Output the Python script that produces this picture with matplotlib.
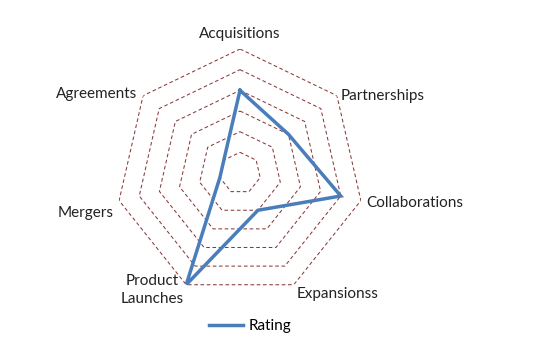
import matplotlib
matplotlib.use('Agg')
import matplotlib.pyplot as plt
import numpy as np

# radar data
categories = ['Acquisitions', 'Partnerships', 'Collaborations', 'Expansionss',
              'Product\nLaunches', 'Mergers', 'Agreements']
rating = [4, 3, 5, 2, 6, 1, 1]
levels = [1, 2, 3, 4, 5, 6]

# label offsets (points) from the outer vertex + alignment
label_style = [((0, 11), 'center', 'center'),
               ((3, 0), 'left', 'center'),
               ((4, -2), 'left', 'center'),
               ((2, -7), 'left', 'center'),
               ((-2, -4), 'right', 'center'),
               ((-4, -9), 'right', 'center'),
               ((-4, 1), 'right', 'center')]

plt.rcParams['font.family'] = ['Lato', 'DejaVu Sans']

n = len(categories)
angles = np.linspace(0, 2 * np.pi, n, endpoint=False)
closed = np.append(angles, angles[0])

fig = plt.figure(figsize=(5.38, 3.5), dpi=100)
ax = fig.add_axes([0.2156, 0.1514, 0.461, 0.7086], projection='polar')
ax.set_theta_zero_location('N')
ax.set_theta_direction(-1)
ax.set_ylim(0, 6)
ax.grid(False)
ax.spines['polar'].set_visible(False)
ax.set_xticks([])
ax.set_yticks([])
ax.patch.set_alpha(0)

for lv in levels:
    ax.plot(closed, [lv] * (n + 1), color='#8B3A3A', lw=0.75,
            dashes=(3.5, 2.5), zorder=1)

vals = rating + rating[:1]
ax.plot(closed, vals, color='#4A7EBB', lw=2.5, label='Rating', zorder=3,
        solid_joinstyle='miter')

for ang, name, (off, ha, va) in zip(angles, categories, label_style):
    ax.annotate(name, xy=(ang, 6), xytext=off, textcoords='offset points',
                ha=ha, va=va, fontsize=11, color='#222222',
                multialignment='center', linespacing=1.35,
                annotation_clip=False)

fig.legend(loc='center', bbox_to_anchor=(0.465, 0.068), frameon=False,
           handlelength=2.2, fontsize=11, handletextpad=0.4)

fig.savefig('out.png', dpi=100)
